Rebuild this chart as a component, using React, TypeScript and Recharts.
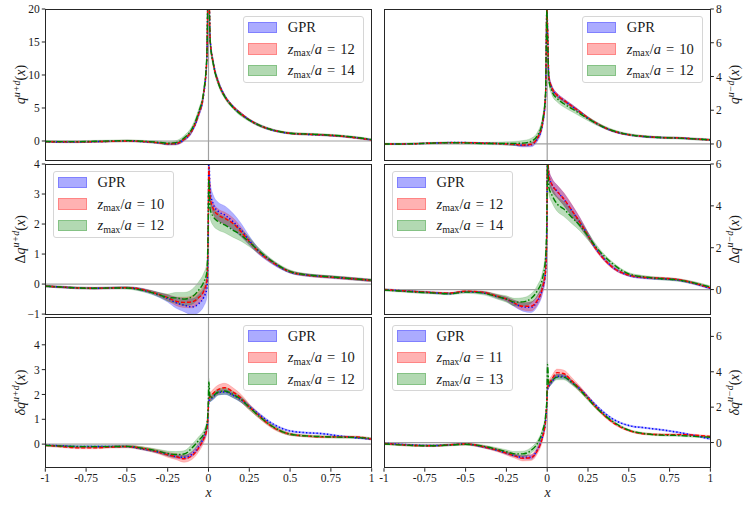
import React from 'react';
import { ComposedChart, Area, Line, XAxis, YAxis, ReferenceLine } from 'recharts';

// shared x grid (dense near x = 0 where the distributions peak)
const X = [-1, -0.9, -0.8, -0.7, -0.6, -0.5, -0.4, -0.3, -0.25, -0.2, -0.15, -0.1, -0.06, -0.03, -0.01, -0.002,
  0.002, 0.01, 0.03, 0.06, 0.1, 0.15, 0.2, 0.25, 0.3, 0.4, 0.5, 0.6, 0.7, 0.8, 0.9, 1];
const X_TICKS = [-1, -0.75, -0.5, -0.25, 0, 0.25, 0.5, 0.75, 1];

// q^{u+d}
const unpolPlusGpr = [-0.1, -0.15, -0.15, -0.1, -0.05, 0.0, -0.1, -0.3, -0.45, -0.4, 0.2, 1.6, 4.0, 7.0, 12.5, 24, 24, 15.5, 11.8, 9.0, 6.8, 5.2, 4.1, 3.2, 2.5, 1.6, 1.15, 1.0, 0.9, 0.75, 0.5, 0.15];
const unpolPlusGprErr = [0.1, 0.1, 0.1, 0.1, 0.1, 0.1, 0.1, 0.12, 0.15, 0.2, 0.25, 0.3, 0.35, 0.4, 0.6, 1, 1, 0.6, 0.4, 0.3, 0.25, 0.2, 0.2, 0.15, 0.15, 0.12, 0.1, 0.1, 0.1, 0.1, 0.1, 0.1];
const unpolPlusA = [-0.1, -0.12, -0.13, -0.1, -0.05, 0.0, -0.08, -0.28, -0.42, -0.38, 0.25, 1.65, 4.1, 7.1, 12.6, 24, 24, 15.4, 11.7, 8.9, 6.75, 5.2, 4.1, 3.2, 2.5, 1.62, 1.17, 1.02, 0.92, 0.76, 0.5, 0.15];
const unpolPlusAErr = [0.12, 0.12, 0.12, 0.12, 0.12, 0.12, 0.12, 0.14, 0.16, 0.2, 0.25, 0.3, 0.35, 0.4, 0.6, 1, 1, 0.6, 0.4, 0.3, 0.25, 0.2, 0.2, 0.15, 0.15, 0.12, 0.12, 0.12, 0.12, 0.12, 0.12, 0.12];
const unpolPlusB = [-0.08, -0.1, -0.1, -0.05, 0.0, 0.05, -0.05, -0.22, -0.35, -0.25, 0.45, 1.9, 4.4, 7.4, 13, 24, 24, 15.2, 11.6, 8.8, 6.7, 5.1, 4.0, 3.15, 2.5, 1.62, 1.18, 1.05, 0.95, 0.8, 0.55, 0.2];
const unpolPlusBErr = [0.15, 0.15, 0.15, 0.15, 0.15, 0.15, 0.15, 0.2, 0.25, 0.3, 0.35, 0.4, 0.45, 0.5, 0.7, 1, 1, 0.7, 0.5, 0.4, 0.3, 0.25, 0.25, 0.2, 0.2, 0.15, 0.15, 0.15, 0.15, 0.15, 0.15, 0.15];

// q^{u-d}
const unpolMinusGpr = [0, 0, 0.02, 0.05, 0.08, 0.08, 0.05, 0.02, 0, -0.03, -0.08, -0.05, 0.3, 1.1, 2.8, 8, 7, 4.0, 3.3, 2.9, 2.6, 2.25, 1.9, 1.53, 1.23, 0.77, 0.54, 0.43, 0.38, 0.36, 0.3, 0.24];
const unpolMinusGprErr = [0.03, 0.03, 0.03, 0.03, 0.03, 0.03, 0.03, 0.04, 0.05, 0.06, 0.1, 0.12, 0.15, 0.2, 0.3, 0.5, 0.5, 0.2, 0.15, 0.12, 0.1, 0.1, 0.08, 0.07, 0.06, 0.05, 0.04, 0.04, 0.04, 0.04, 0.04, 0.04];
const unpolMinusA = [0, 0, 0.02, 0.05, 0.08, 0.08, 0.05, 0.02, 0, -0.02, -0.06, -0.02, 0.35, 1.15, 2.9, 8, 7, 4.0, 3.3, 2.9, 2.6, 2.25, 1.9, 1.54, 1.24, 0.78, 0.55, 0.44, 0.38, 0.36, 0.3, 0.24];
const unpolMinusAErr = [0.03, 0.03, 0.03, 0.03, 0.03, 0.03, 0.03, 0.04, 0.05, 0.06, 0.08, 0.1, 0.12, 0.18, 0.3, 0.5, 0.5, 0.2, 0.14, 0.12, 0.1, 0.1, 0.08, 0.07, 0.06, 0.05, 0.04, 0.04, 0.04, 0.04, 0.04, 0.04];
const unpolMinusB = [0, 0, 0.02, 0.05, 0.07, 0.06, 0.03, 0.03, 0.03, 0.03, 0.05, 0.15, 0.5, 1.3, 3.0, 8, 6.5, 3.8, 3.1, 2.7, 2.4, 2.1, 1.8, 1.5, 1.22, 0.8, 0.56, 0.44, 0.38, 0.35, 0.3, 0.25];
const unpolMinusBErr = [0.05, 0.05, 0.05, 0.05, 0.05, 0.05, 0.06, 0.08, 0.1, 0.12, 0.15, 0.18, 0.2, 0.25, 0.35, 0.5, 0.5, 0.25, 0.22, 0.2, 0.2, 0.18, 0.15, 0.12, 0.1, 0.07, 0.06, 0.06, 0.06, 0.06, 0.06, 0.06];

// Δq^{u+d}
const helPlusGpr = [-0.07, -0.1, -0.13, -0.14, -0.13, -0.12, -0.2, -0.37, -0.48, -0.62, -0.7, -0.76, -0.65, -0.45, -0.15, 1.5, 4.2, 3.1, 2.65, 2.42, 2.3, 2.08, 1.8, 1.45, 1.13, 0.69, 0.4, 0.3, 0.25, 0.21, 0.17, 0.12];
const helPlusGprErr = [0.03, 0.03, 0.03, 0.03, 0.03, 0.03, 0.05, 0.08, 0.12, 0.18, 0.22, 0.27, 0.3, 0.3, 0.3, 0.3, 0.3, 0.3, 0.3, 0.3, 0.3, 0.28, 0.22, 0.15, 0.1, 0.06, 0.04, 0.04, 0.04, 0.04, 0.04, 0.04];
const helPlusA = [-0.07, -0.1, -0.13, -0.14, -0.13, -0.12, -0.19, -0.35, -0.45, -0.57, -0.61, -0.59, -0.45, -0.25, 0.1, 1.8, 3.9, 2.9, 2.5, 2.3, 2.19, 2.02, 1.74, 1.42, 1.12, 0.7, 0.41, 0.3, 0.25, 0.21, 0.17, 0.12];
const helPlusAErr = [0.03, 0.03, 0.03, 0.03, 0.03, 0.03, 0.04, 0.06, 0.1, 0.14, 0.17, 0.2, 0.2, 0.2, 0.2, 0.2, 0.2, 0.2, 0.2, 0.2, 0.2, 0.18, 0.15, 0.1, 0.08, 0.05, 0.04, 0.04, 0.04, 0.04, 0.04, 0.04];
const helPlusB = [-0.07, -0.1, -0.13, -0.14, -0.13, -0.13, -0.21, -0.36, -0.45, -0.46, -0.5, -0.42, -0.2, 0.05, 0.4, 1.9, 3.5, 2.5, 2.24, 2.08, 1.97, 1.8, 1.63, 1.4, 1.15, 0.72, 0.42, 0.31, 0.26, 0.22, 0.17, 0.13];
const helPlusBErr = [0.03, 0.03, 0.03, 0.03, 0.03, 0.04, 0.05, 0.08, 0.12, 0.18, 0.22, 0.25, 0.28, 0.3, 0.3, 0.3, 0.3, 0.3, 0.3, 0.28, 0.26, 0.24, 0.2, 0.15, 0.1, 0.06, 0.05, 0.04, 0.04, 0.04, 0.04, 0.04];

// Δq^{u-d}
const helMinusGpr = [0, -0.05, -0.1, -0.15, -0.19, -0.1, -0.14, -0.35, -0.46, -0.67, -0.83, -0.85, -0.55, 0.0, 0.8, 3, 6.5, 5.45, 5.0, 4.7, 4.33, 3.78, 3.22, 2.59, 1.95, 1.08, 0.68, 0.56, 0.52, 0.46, 0.29, 0.05];
const helMinusGprErr = [0.04, 0.04, 0.04, 0.04, 0.04, 0.04, 0.05, 0.08, 0.1, 0.15, 0.2, 0.25, 0.25, 0.25, 0.25, 0.3, 0.3, 0.3, 0.3, 0.3, 0.3, 0.28, 0.22, 0.15, 0.1, 0.07, 0.05, 0.05, 0.05, 0.05, 0.05, 0.05];
const helMinusA = [0, -0.05, -0.1, -0.14, -0.17, -0.08, -0.12, -0.33, -0.45, -0.65, -0.8, -0.8, -0.5, 0.05, 0.9, 3, 6.5, 5.45, 5.0, 4.7, 4.35, 3.8, 3.22, 2.58, 1.93, 1.07, 0.69, 0.58, 0.54, 0.48, 0.31, 0.08];
const helMinusAErr = [0.04, 0.04, 0.04, 0.04, 0.04, 0.04, 0.05, 0.08, 0.1, 0.14, 0.18, 0.22, 0.22, 0.22, 0.25, 0.3, 0.3, 0.3, 0.3, 0.3, 0.3, 0.28, 0.22, 0.15, 0.1, 0.07, 0.05, 0.05, 0.05, 0.05, 0.05, 0.05];
const helMinusB = [-0.02, -0.07, -0.12, -0.16, -0.2, -0.12, -0.16, -0.35, -0.45, -0.6, -0.59, -0.43, -0.05, 0.5, 1.5, 3.5, 6, 4.9, 4.5, 4.1, 3.86, 3.46, 3.06, 2.55, 2.03, 1.24, 0.75, 0.6, 0.52, 0.46, 0.32, 0.12];
const helMinusBErr = [0.05, 0.05, 0.05, 0.05, 0.05, 0.06, 0.08, 0.12, 0.15, 0.18, 0.2, 0.22, 0.25, 0.3, 0.35, 0.35, 0.35, 0.35, 0.35, 0.35, 0.35, 0.3, 0.25, 0.18, 0.12, 0.08, 0.06, 0.06, 0.06, 0.06, 0.06, 0.06];

// δq^{u+d}
const trPlusGpr = [-0.04, -0.07, -0.1, -0.1, -0.1, -0.1, -0.2, -0.33, -0.42, -0.5, -0.53, -0.4, -0.1, 0.25, 0.6, 1.2, 1.75, 1.8, 1.9, 2.08, 2.1, 1.97, 1.78, 1.52, 1.25, 0.79, 0.53, 0.46, 0.42, 0.33, 0.26, 0.2];
const trPlusGprErr = [0.03, 0.03, 0.03, 0.03, 0.03, 0.03, 0.04, 0.05, 0.06, 0.07, 0.08, 0.1, 0.12, 0.12, 0.12, 0.12, 0.1, 0.1, 0.1, 0.1, 0.1, 0.1, 0.1, 0.08, 0.06, 0.04, 0.03, 0.03, 0.03, 0.03, 0.03, 0.03];
const trPlusA = [-0.05, -0.1, -0.15, -0.15, -0.12, -0.1, -0.18, -0.33, -0.43, -0.5, -0.59, -0.46, -0.15, 0.2, 0.6, 1.3, 1.85, 1.9, 2.05, 2.2, 2.27, 2.1, 1.85, 1.5, 1.19, 0.66, 0.4, 0.33, 0.29, 0.29, 0.29, 0.2];
const trPlusAErr = [0.04, 0.04, 0.04, 0.04, 0.04, 0.05, 0.06, 0.08, 0.1, 0.12, 0.14, 0.15, 0.16, 0.16, 0.16, 0.16, 0.16, 0.16, 0.17, 0.18, 0.18, 0.17, 0.15, 0.12, 0.1, 0.07, 0.05, 0.04, 0.04, 0.04, 0.04, 0.04];
const trPlusB = [-0.05, -0.08, -0.1, -0.1, -0.1, -0.09, -0.17, -0.3, -0.38, -0.42, -0.4, -0.15, 0.15, 0.4, 0.8, 1.5, 2.5, 1.85, 1.95, 2.1, 2.14, 2.0, 1.8, 1.48, 1.18, 0.68, 0.4, 0.33, 0.3, 0.28, 0.27, 0.22];
const trPlusBErr = [0.04, 0.04, 0.04, 0.04, 0.04, 0.05, 0.06, 0.08, 0.1, 0.12, 0.13, 0.15, 0.15, 0.15, 0.15, 0.15, 0.15, 0.13, 0.13, 0.13, 0.13, 0.13, 0.12, 0.1, 0.08, 0.06, 0.05, 0.04, 0.04, 0.04, 0.04, 0.04];

// δq^{u-d}
const trMinusGpr = [-0.04, -0.1, -0.15, -0.17, -0.13, -0.08, -0.23, -0.45, -0.6, -0.74, -0.83, -0.83, -0.4, 0.3, 1.2, 2.2, 3.0, 3.2, 3.45, 3.75, 3.74, 3.42, 3.04, 2.57, 2.09, 1.34, 0.96, 0.83, 0.72, 0.58, 0.4, 0.2];
const trMinusGprErr = [0.04, 0.04, 0.04, 0.04, 0.04, 0.04, 0.05, 0.06, 0.07, 0.08, 0.1, 0.12, 0.12, 0.12, 0.12, 0.12, 0.12, 0.12, 0.12, 0.12, 0.12, 0.1, 0.1, 0.08, 0.07, 0.05, 0.04, 0.04, 0.04, 0.04, 0.04, 0.04];
const trMinusA = [-0.05, -0.12, -0.17, -0.18, -0.13, -0.08, -0.22, -0.45, -0.6, -0.75, -0.89, -0.85, -0.45, 0.25, 1.2, 2.3, 3.1, 3.3, 3.6, 3.95, 3.9, 3.5, 3.04, 2.52, 2.0, 1.15, 0.68, 0.49, 0.45, 0.45, 0.42, 0.34];
const trMinusAErr = [0.05, 0.05, 0.05, 0.05, 0.05, 0.06, 0.07, 0.09, 0.11, 0.13, 0.15, 0.17, 0.18, 0.2, 0.2, 0.2, 0.2, 0.2, 0.2, 0.2, 0.2, 0.18, 0.15, 0.12, 0.1, 0.07, 0.05, 0.05, 0.05, 0.05, 0.05, 0.05];
const trMinusB = [-0.08, -0.13, -0.17, -0.18, -0.14, -0.1, -0.2, -0.4, -0.52, -0.64, -0.64, -0.45, -0.05, 0.6, 1.5, 2.5, 4.4, 3.3, 3.5, 3.7, 3.7, 3.4, 2.98, 2.48, 1.98, 1.2, 0.7, 0.5, 0.42, 0.4, 0.35, 0.3];
const trMinusBErr = [0.05, 0.05, 0.05, 0.05, 0.05, 0.06, 0.07, 0.09, 0.11, 0.13, 0.15, 0.16, 0.16, 0.16, 0.16, 0.16, 0.16, 0.15, 0.15, 0.15, 0.15, 0.14, 0.12, 0.1, 0.08, 0.06, 0.05, 0.05, 0.05, 0.05, 0.05, 0.05];

const BLUE = '#0000ff';
const RED = '#ff0000';
const GREEN = '#008000';
const FONT = '"Liberation Serif", "DejaVu Serif", serif';

const COLS = { L: { left: 45.3, right: 371.7 }, R: { left: 384.3, right: 710.7 } };
const ROWS = [{ top: 9, bottom: 160 }, { top: 164, bottom: 314.7 }, { top: 317.5, bottom: 467.7 }];
const PAD_TOP = 9;

type PanelCfg = {
  col: 'L' | 'R';
  row: number;
  domain: [number, number];
  ticks: number[];
  prefix: string;
  sup: string;
  legendSide: 'ul' | 'ur';
  zmax: [number, number];
  g: number[]; gErr: number[];
  a: number[]; aErr: number[];
  b: number[]; bErr: number[];
};

const PANELS: PanelCfg[] = [
  { col: 'L', row: 0, domain: [-2.88, 20], ticks: [0, 5, 10, 15, 20], prefix: '', sup: 'u+d', legendSide: 'ur', zmax: [12, 14],
    g: unpolPlusGpr, gErr: unpolPlusGprErr, a: unpolPlusA, aErr: unpolPlusAErr, b: unpolPlusB, bErr: unpolPlusBErr },
  { col: 'R', row: 0, domain: [-0.95, 8], ticks: [0, 2, 4, 6, 8], prefix: '', sup: 'u\u2212d', legendSide: 'ur', zmax: [10, 12],
    g: unpolMinusGpr, gErr: unpolMinusGprErr, a: unpolMinusA, aErr: unpolMinusAErr, b: unpolMinusB, bErr: unpolMinusBErr },
  { col: 'L', row: 1, domain: [-1.02, 4], ticks: [-1, 0, 1, 2, 3, 4], prefix: '\u0394', sup: 'u+d', legendSide: 'ul', zmax: [10, 12],
    g: helPlusGpr, gErr: helPlusGprErr, a: helPlusA, aErr: helPlusAErr, b: helPlusB, bErr: helPlusBErr },
  { col: 'R', row: 1, domain: [-1.2, 6], ticks: [0, 2, 4, 6], prefix: '\u0394', sup: 'u\u2212d', legendSide: 'ul', zmax: [12, 14],
    g: helMinusGpr, gErr: helMinusGprErr, a: helMinusA, aErr: helMinusAErr, b: helMinusB, bErr: helMinusBErr },
  { col: 'L', row: 2, domain: [-0.97, 5.08], ticks: [0, 1, 2, 3, 4], prefix: '\u03b4', sup: 'u+d', legendSide: 'ur', zmax: [10, 12],
    g: trPlusGpr, gErr: trPlusGprErr, a: trPlusA, aErr: trPlusAErr, b: trPlusB, bErr: trPlusBErr },
  { col: 'R', row: 2, domain: [-1.45, 7.04], ticks: [0, 2, 4, 6], prefix: '\u03b4', sup: 'u\u2212d', legendSide: 'ul', zmax: [11, 13],
    g: trMinusGpr, gErr: trMinusGprErr, a: trMinusA, aErr: trMinusAErr, b: trMinusB, bErr: trMinusBErr },
];

const fmtY = (v: number) => (v < 0 ? '\u2212' + Math.abs(v) : String(v));
const tickStyle = { fontSize: 11.5, fill: '#1a1a1a', fontFamily: FONT };

function Panel({ p }: { p: PanelCfg }) {
  const col = COLS[p.col];
  const row = ROWS[p.row];
  const plotW = col.right - col.left;
  const plotH = row.bottom - row.top;
  const isLeft = p.col === 'L';
  const bottomRow = p.row === 2;
  const xh = bottomRow ? 36 : 4;
  const chartLeft = isLeft ? 0 : col.left - 6;
  const chartW = isLeft ? col.right + 6 : 747 - chartLeft;
  const yW = isLeft ? col.left : chartW - 6 - plotW;

  const data = X.map((x, i) => ({
    x,
    gBand: [p.g[i] - p.gErr[i], p.g[i] + p.gErr[i]],
    aBand: [p.a[i] - p.aErr[i], p.a[i] + p.aErr[i]],
    bBand: [p.b[i] - p.bErr[i], p.b[i] + p.bErr[i]],
    g: p.g[i],
    a: p.a[i],
    b: p.b[i],
  }));

  return (
    <div style={{ position: 'absolute', left: chartLeft, top: row.top - PAD_TOP }}>
      <ComposedChart
        width={chartW}
        height={plotH + PAD_TOP + xh}
        data={data}
        margin={{ top: PAD_TOP, bottom: 0, left: isLeft ? 0 : 6, right: isLeft ? 6 : 0 }}
      >
        <XAxis
          dataKey="x"
          type="number"
          domain={[-1, 1]}
          ticks={X_TICKS}
          interval={0}
          allowDataOverflow
          height={xh}
          tickSize={3.5}
          axisLine={false}
          tickLine={{ stroke: '#222' }}
          tick={bottomRow ? tickStyle : false}
          tickFormatter={(v: number) => String(v)}
        />
        <YAxis
          type="number"
          orientation={isLeft ? 'left' : 'right'}
          width={yW}
          domain={p.domain}
          ticks={p.ticks}
          interval={0}
          allowDataOverflow
          tickSize={3.5}
          axisLine={false}
          tickLine={{ stroke: '#222' }}
          tick={tickStyle}
          tickFormatter={fmtY}
        />
        <ReferenceLine x={0} stroke="#a0a0a0" strokeWidth={1.2} />
        <ReferenceLine y={0} stroke="#a0a0a0" strokeWidth={1.2} />
        <Area dataKey="gBand" type="monotone" fill={BLUE} fillOpacity={0.3} stroke={BLUE} strokeOpacity={0.2} strokeWidth={0.8} dot={false} activeDot={false} isAnimationActive={false} />
        <Area dataKey="aBand" type="monotone" fill={RED} fillOpacity={0.27} stroke={RED} strokeOpacity={0.2} strokeWidth={0.8} dot={false} activeDot={false} isAnimationActive={false} />
        <Area dataKey="bBand" type="monotone" fill={GREEN} fillOpacity={0.27} stroke={GREEN} strokeOpacity={0.2} strokeWidth={0.8} dot={false} activeDot={false} isAnimationActive={false} />
        <Line dataKey="g" type="monotone" stroke={BLUE} strokeWidth={1.5} strokeDasharray="1.3 2.2" dot={false} activeDot={false} isAnimationActive={false} />
        <Line dataKey="a" type="monotone" stroke={RED} strokeWidth={1.4} strokeDasharray="4 2" dot={false} activeDot={false} isAnimationActive={false} />
        <Line dataKey="b" type="monotone" stroke={GREEN} strokeWidth={1.4} strokeDasharray="6 2 1.5 2" dot={false} activeDot={false} isAnimationActive={false} />
      </ComposedChart>
    </div>
  );
}

const PATCHES = [
  { fill: 'rgba(0,0,255,0.33)', edge: 'rgba(0,0,255,0.25)' },
  { fill: 'rgba(255,0,0,0.3)', edge: 'rgba(255,0,0,0.25)' },
  { fill: 'rgba(0,128,0,0.3)', edge: 'rgba(0,128,0,0.25)' },
];

function ZLabel({ n }: { n: number }) {
  return (
    <span>
      <i>z</i>
      <span style={{ fontSize: 10, position: 'relative', top: 2.5 }}>max</span>/<i>a</i>
      <span style={{ margin: '0 5px' }}>=</span>
      {n}
    </span>
  );
}

function PanelLegend({ p }: { p: PanelCfg }) {
  const col = COLS[p.col];
  const row = ROWS[p.row];
  const w = 121.5;
  const left = p.legendSide === 'ur' ? col.right - 7.4 - w : col.left + 7.2;
  const top = row.top + 7.2;
  const labels = [<span>GPR</span>, <ZLabel n={p.zmax[0]} />, <ZLabel n={p.zmax[1]} />];
  return (
    <div
      style={{
        position: 'absolute', left, top, width: w, height: 66.7, boxSizing: 'border-box',
        border: '1px solid #d6d6d6', borderRadius: 3, background: 'rgba(255,255,255,0.8)',
      }}
    >
      {labels.map((lab, i) => (
        <React.Fragment key={i}>
          <div
            style={{
              position: 'absolute', left: 4.5, top: 4.8 + i * 21.5, width: 28.7, height: 11.5, boxSizing: 'border-box',
              background: PATCHES[i].fill, border: `1px solid ${PATCHES[i].edge}`,
            }}
          />
          <div
            style={{
              position: 'absolute', left: 44, top: 1.3 + i * 21.5, height: 18, lineHeight: '18px',
              fontSize: 14.5, fontFamily: FONT, color: '#1a1a1a', whiteSpace: 'nowrap',
            }}
          >
            {lab}
          </div>
        </React.Fragment>
      ))}
    </div>
  );
}

function AxisLabels() {
  return (
    <svg width={747} height={506} style={{ position: 'absolute', left: 0, top: 0, pointerEvents: 'none' }}>
      {PANELS.map((p, i) => {
        const row = ROWS[p.row];
        const cy = (row.top + row.bottom) / 2;
        const cx = p.col === 'L' ? 25 : 739;
        return (
          <text
            key={i}
            x={cx}
            y={cy}
            transform={`rotate(-90 ${cx} ${cy})`}
            textAnchor="middle"
            fontFamily={FONT}
            fontSize={14}
            fill="#1a1a1a"
          >
            {p.prefix && <tspan fontStyle={p.prefix === '\u03b4' ? 'italic' : 'normal'}>{p.prefix}</tspan>}
            <tspan fontStyle="italic">q</tspan>
            <tspan fontSize={10} dy={-5.5} fontStyle="italic">{p.sup}</tspan>
            <tspan dy={5.5}>(</tspan>
            <tspan fontStyle="italic">x</tspan>
            <tspan>)</tspan>
          </text>
        );
      })}
      <text x={208.5} y={497} textAnchor="middle" fontFamily={FONT} fontSize={14} fontStyle="italic" fill="#1a1a1a">x</text>
      <text x={547.5} y={497} textAnchor="middle" fontFamily={FONT} fontSize={14} fontStyle="italic" fill="#1a1a1a">x</text>
    </svg>
  );
}

export default function App() {
  return (
    <div style={{ position: 'absolute', left: 0, top: 0, width: 747, height: 506, background: '#fff', fontFamily: FONT }}>
      {PANELS.map((p, i) => (
        <Panel key={i} p={p} />
      ))}
      {PANELS.map((p, i) => {
        const col = COLS[p.col];
        const row = ROWS[p.row];
        return (
          <div
            key={'f' + i}
            style={{
              position: 'absolute', left: col.left - 0.5, top: row.top - 0.5,
              width: col.right - col.left + 1, height: row.bottom - row.top + 1,
              boxSizing: 'border-box', border: '1px solid #262626', pointerEvents: 'none',
            }}
          />
        );
      })}
      {PANELS.map((p, i) => (
        <PanelLegend key={'l' + i} p={p} />
      ))}
      <AxisLabels />
    </div>
  );
}
